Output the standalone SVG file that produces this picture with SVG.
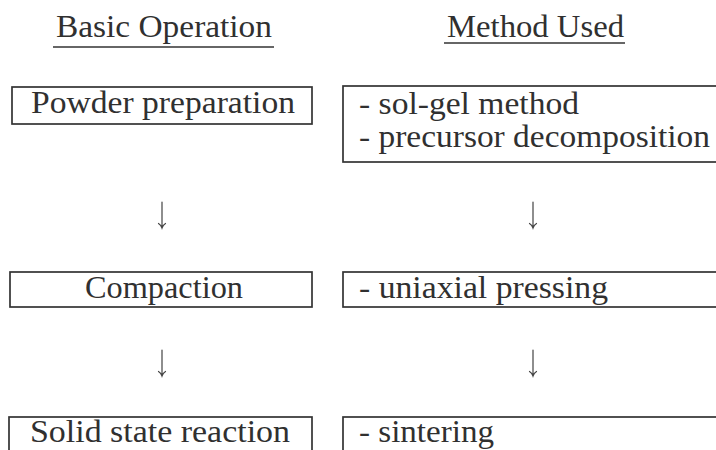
<svg xmlns="http://www.w3.org/2000/svg" width="716" height="450" viewBox="0 0 716 450">
<style>
  .bg { fill: #ffffff; }
  .box { fill: none; stroke: #333333; stroke-width: 1.7; }
  .t { font-family: "Liberation Serif", "DejaVu Serif", serif; font-size: 32px; fill: #303030; }
  .ul { stroke: #333333; stroke-width: 1.6; }
  .arr { fill: none; stroke: #444444; stroke-width: 1.2; stroke-linecap: round; }
</style>
<rect class="bg" x="0" y="0" width="716" height="450"/>

<g id="heading-basic">
  <text class="t" x="56" y="37" textLength="216" lengthAdjust="spacingAndGlyphs">Basic Operation</text>
  <line class="ul" x1="53" y1="47" x2="274" y2="47"/>
</g>
<g id="heading-method">
  <text class="t" x="447" y="37" textLength="177" lengthAdjust="spacingAndGlyphs">Method Used</text>
  <line class="ul" x1="444" y1="43" x2="625" y2="43"/>
</g>

<g id="powder-preparation">
  <rect class="box" x="12" y="87" width="300" height="37"/>
  <text class="t" x="31" y="113" textLength="264" lengthAdjust="spacingAndGlyphs">Powder preparation</text>
</g>
<g id="method-powder">
  <rect class="box" x="343" y="86" width="400" height="76"/>
  <text class="t" x="359" y="114" textLength="220" lengthAdjust="spacingAndGlyphs">- sol-gel method</text>
  <text class="t" x="359" y="147" textLength="351" lengthAdjust="spacingAndGlyphs">- precursor decomposition</text>
</g>

<g id="compaction">
  <rect class="box" x="10" y="272" width="302" height="35"/>
  <text class="t" x="85" y="298" textLength="158" lengthAdjust="spacingAndGlyphs">Compaction</text>
</g>
<g id="method-compaction">
  <rect class="box" x="343" y="272" width="400" height="35"/>
  <text class="t" x="359" y="298" textLength="249" lengthAdjust="spacingAndGlyphs">- uniaxial pressing</text>
</g>

<g id="solid-state-reaction">
  <rect class="box" x="9" y="417" width="303" height="50"/>
  <text class="t" x="30" y="442" textLength="260" lengthAdjust="spacingAndGlyphs">Solid state reaction</text>
</g>
<g id="method-solid">
  <rect class="box" x="343" y="417" width="400" height="50"/>
  <text class="t" x="359" y="442" textLength="135" lengthAdjust="spacingAndGlyphs">- sintering</text>
</g>

<g id="connectors">
  <path class="arr" d="M162,202 V228 M158.5,223.5 Q161,225 162,228 Q163,225 165.5,223.5"/>
  <path class="arr" d="M533,202 V228 M529.5,223.5 Q532,225 533,228 Q534,225 536.5,223.5"/>
  <path class="arr" d="M162,350 V376 M158.5,371.5 Q161,373 162,376 Q163,373 165.5,371.5"/>
  <path class="arr" d="M533,350 V376 M529.5,371.5 Q532,373 533,376 Q534,373 536.5,371.5"/>
</g>
</svg>
